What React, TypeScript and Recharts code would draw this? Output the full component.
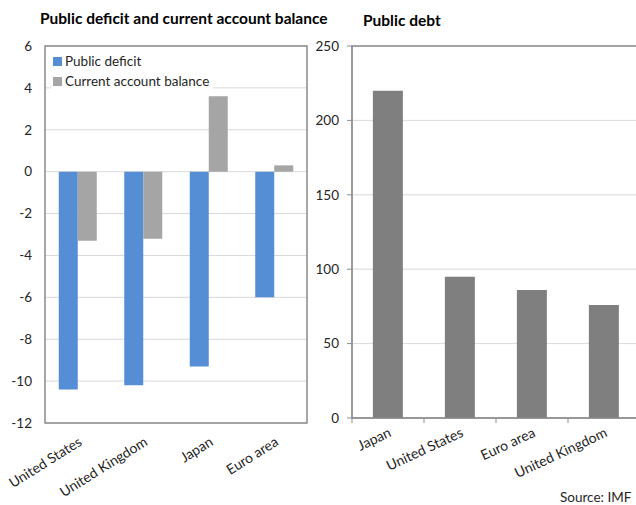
import {
  BarChart,
  Bar,
  XAxis,
  YAxis,
  CartesianGrid,
  Legend,
  ReferenceArea,
} from "recharts";

const FONT = "Lato, 'Open Sans', sans-serif";
const BLUE = "#558ed5";
const LIGHT = "#a5a5a5";
const DARK = "#7f7f7f";
const BORDER = "#8c8c8c";
const GRID = "#d9d9d9";
const TXT = "#262626";

const balanceCountries = ["United States", "United Kingdom", "Japan", "Euro area"];
const publicDeficit = [-10.4, -10.2, -9.3, -6.0];
const currentAccount = [-3.3, -3.2, 3.6, 0.3];
const balanceTicks = [-12, -10, -8, -6, -4, -2, 0, 2, 4, 6];
const balanceSeries = ["Public deficit", "Current account balance"];

const debtCountries = ["Japan", "United States", "Euro area", "United Kingdom"];
const publicDebt = [220, 95, 86, 76];
const debtTicks = [0, 50, 100, 150, 200, 250];

const balanceData = balanceCountries.map((name, i) => ({
  name,
  deficit: publicDeficit[i],
  current: currentAccount[i],
}));

const debtData = debtCountries.map((name, i) => ({ name, debt: publicDebt[i] }));

function LegendBox({ payload }: any) {
  const items = [...(payload || [])].sort(
    (a: any, b: any) => balanceSeries.indexOf(a.value) - balanceSeries.indexOf(b.value)
  );
  return (
    <div style={{ background: "#fff", padding: "2px 4px 2px 2px", fontFamily: FONT, fontSize: 13.5, color: TXT }}>
      {items.map((p: any) => (
        <div key={p.value} style={{ display: "flex", alignItems: "center", height: 20 }}>
          <span style={{ width: 9, height: 9, background: p.color, marginRight: 3, display: "inline-block" }} />
          {p.value}
        </div>
      ))}
    </div>
  );
}

export default function App() {
  return (
    <div
      style={{
        position: "absolute",
        left: 0,
        top: 0,
        width: 636,
        height: 505,
        overflow: "hidden",
        background: "#fff",
        fontFamily: FONT,
      }}
    >
      <div style={{ position: "absolute", left: 40, top: 9, fontWeight: 700, fontSize: 15.5, color: "#000" }}>
        Public deficit and current account balance
      </div>
      <div style={{ position: "absolute", left: 363, top: 11, fontWeight: 700, fontSize: 15.5, color: "#000" }}>
        Public debt
      </div>

      <div style={{ position: "absolute", left: 0, top: 0 }}>
        <BarChart
          width={320}
          height={505}
          data={balanceData}
          margin={{ top: 46, right: 13, left: 0, bottom: 22 }}
          barCategoryGap="21%"
          barGap={0}
        >
          <CartesianGrid vertical={false} stroke={GRID} />
          <XAxis
            dataKey="name"
            axisLine={false}
            tickLine={false}
            interval={0}
            angle={-32}
            textAnchor="end"
            height={60}
            tick={{ fontSize: 14, fill: TXT, fontFamily: FONT }}
            tickMargin={7}
          />
          <YAxis
            domain={[-12, 6]}
            ticks={balanceTicks}
            width={45}
            axisLine={false}
            tickLine={false}
            tickMargin={7}
            tick={{ fontSize: 13.5, fill: TXT, fontFamily: FONT }}
          />
          <ReferenceArea y1={-12} y2={6} fill="none" stroke={BORDER} strokeWidth={1.5} />
          <Legend
            layout="vertical"
            align="center"
            verticalAlign="middle"
            wrapperStyle={{ left: 51, top: 49, width: "auto" }}
            content={<LegendBox />}
          />
          <Bar dataKey="deficit" name={balanceSeries[0]} fill={BLUE} isAnimationActive={false} />
          <Bar dataKey="current" name={balanceSeries[1]} fill={LIGHT} isAnimationActive={false} />
        </BarChart>
      </div>

      <div style={{ position: "absolute", left: 300, top: 0 }}>
        <BarChart
          width={340}
          height={505}
          data={debtData}
          margin={{ top: 46, right: 0, left: 0, bottom: 27 }}
          barCategoryGap="29%"
        >
          <CartesianGrid vertical={false} stroke={GRID} />
          <XAxis
            dataKey="name"
            interval={0}
            height={60}
            axisLine={{ stroke: BORDER }}
            // Excel draws category ticks between the bars: shift them half a band
            tickLine={{ stroke: BORDER, transform: "translate(-36, 0)" }}
            tickSize={5}
            tickMargin={4}
            angle={-25}
            textAnchor="end"
            tick={{ fontSize: 14, fill: TXT, fontFamily: FONT }}
          />
          <YAxis
            domain={[0, 250]}
            ticks={debtTicks}
            width={52}
            axisLine={{ stroke: BORDER }}
            tickLine={{ stroke: BORDER }}
            tickSize={5}
            tickMargin={8}
            tick={{ fontSize: 13.5, fill: TXT, fontFamily: FONT }}
          />
          <ReferenceArea y1={0} y2={250} fill="none" stroke={BORDER} strokeWidth={1.5} />
          <Bar dataKey="debt" name="Public debt" fill={DARK} isAnimationActive={false} />
        </BarChart>
      </div>

      <div style={{ position: "absolute", left: 560, top: 489, fontSize: 13.5, color: TXT }}>Source: IMF</div>
    </div>
  );
}
